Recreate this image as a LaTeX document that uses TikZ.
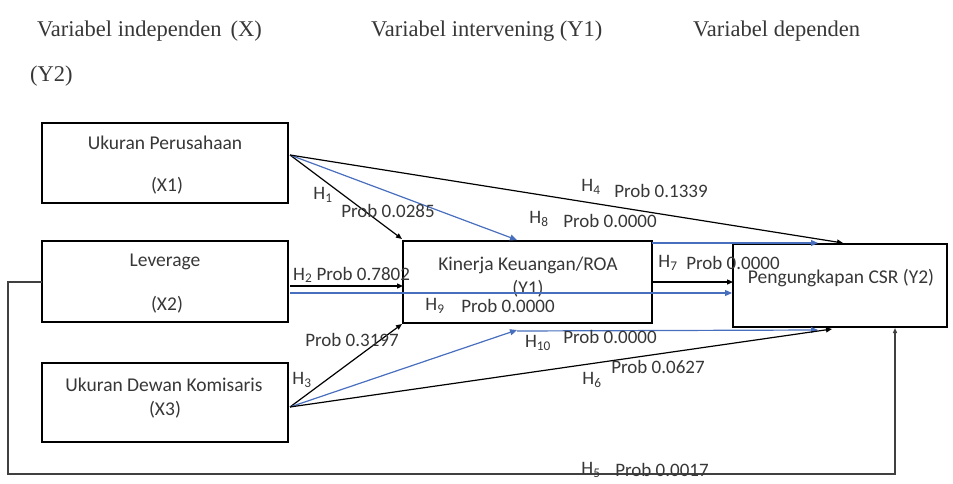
\documentclass[tikz,border=0pt]{standalone}
\usepackage{fontspec}
\setmainfont{Carlito}
\newfontfamily\hdrfont{Liberation Serif}
\usetikzlibrary{arrows.meta}
\definecolor{lineblue}{RGB}{72,110,190}
\definecolor{txtgray}{RGB}{55,55,55}
\tikzset{
  varbox/.style={draw=black, line width=2.8pt, minimum width=#1, inner sep=0pt},
  boxtxt/.style={text=txtgray, font=\fontsize{19.5}{22}\selectfont, inner sep=0pt},
  lbl/.style={text=txtgray, font=\fontsize{19}{22}\selectfont, inner sep=0pt},
  hdr/.style={text=txtgray, font=\hdrfont\fontsize{22.5}{26}\selectfont, inner sep=0pt, anchor=base west},
  blk/.style={draw=black, line width=1.2pt, -{Triangle[length=6pt,width=5pt]}},
  blu/.style={draw=lineblue, line width=1.2pt, -{Triangle[length=7pt,width=6pt]}},
  fb/.style={draw=black!75, line width=1.3pt, -{Triangle[length=5pt,width=4pt]}}
}
\begin{document}
\begin{tikzpicture}[x=1pt,y=-1pt]
\useasboundingbox (0,0) rectangle (953,484);
% headers
\node[hdr] (h1) at (37,37) {Variabel independen\hspace{0.4em}(X)};
\node[hdr] (h2) at (371,37) {Variabel intervening (Y1)};
\node[hdr] (h3) at (693,37) {Variabel dependen};
\node[hdr] (h4) at (30,82) {(Y2)};
% boxes
\node[varbox=246pt, minimum height=80pt] (X1) at (165,163) {};
\node[varbox=246pt, minimum height=81pt] (X2) at (165,281.5) {};
\node[varbox=246pt, minimum height=79pt] (X3) at (165,402.5) {};
\node[varbox=249pt, minimum height=82pt] (Y1) at (527.5,282) {};
\node[varbox=214pt, minimum height=83pt] (Y2) at (840,285.5) {};
% box texts
\node[boxtxt] (t1a) at (165,143) {Ukuran Perusahaan};
\node[boxtxt] (t1b) at (167,186) {(X1)};
\node[boxtxt] (t2a) at (165,262) {Leverage};
\node[boxtxt] (t2b) at (167,305) {(X2)};
\node[boxtxt] (t3a) at (164,385) {Ukuran Dewan Komisaris};
\node[boxtxt] (t3b) at (165,410) {(X3)};
\node[boxtxt] (t4a) at (528,265) {Kinerja Keuangan/ROA};
\node[boxtxt] (t4b) at (528,289) {(Y1)};
\node[boxtxt] (t5a) at (841,278) {Pengungkapan CSR (Y2)};
% connector points
\coordinate (x1o) at (290,155);
\coordinate (x3o) at (290,407);
\coordinate (y1tl) at (402,239);
\coordinate (y1tb) at (517,240);
\coordinate (y1tr) at (652,243);
\coordinate (y2t1) at (818,243);
\coordinate (y2t2) at (843,243);
\coordinate (x2a) at (290,286);
\coordinate (y1l) at (403,286);
\coordinate (x2b) at (290,293);
\coordinate (y2l) at (732,293);
\coordinate (y1r) at (652,282);
\coordinate (y2l2) at (733,282);
\coordinate (y1bl) at (402,324);
\coordinate (y1bb) at (517,330);
\coordinate (y1bs) at (517,331);
\coordinate (y2b1) at (818,330);
\coordinate (y2b2) at (832,329);
\coordinate (fbA) at (42,282);
\coordinate (fbB) at (8,282);
\coordinate (fbC) at (8,474);
\coordinate (fbD) at (895,474);
\coordinate (fbE) at (895,328);
% connectors
\draw[blk] (x1o) -- (y1tl);
\draw[blu] (x1o) -- (y1tb);
\draw[blk] (x1o) -- (y2t2);
\draw[blu] (y1tr) -- (y2t1);
\draw[blk] (x2a) -- (y1l);
\draw[blu] (x2b) -- (y2l);
\draw[blk] (y1r) -- (y2l2);
\draw[blk] (x3o) -- (y1bl);
\draw[blu] (x3o) -- (y1bb);
\draw[blu] (y1bs) -- (y2b1);
\draw[blk] (x3o) -- (y2b2);
\draw[fb] (fbA) -- (fbB) -- (fbC) -- (fbD) -- (fbE);
% labels
\node[lbl] (l1a) at (323,195) {H\textsubscript{1}};
\node[lbl] (l1b) at (388,211) {Prob 0.0285};
\node[lbl] (l4a) at (591,187) {H\textsubscript{4}};
\node[lbl] (l4b) at (661,191) {Prob 0.1339};
\node[lbl] (l8a) at (539,219) {H\textsubscript{8}};
\node[lbl] (l8b) at (610,221) {Prob 0.0000};
\node[lbl, anchor=west] (l2) at (293,275) {H\textsubscript{2} Prob 0.7802};
\node[lbl] (l7a) at (668,263) {H\textsubscript{7}};
\node[lbl] (l7b) at (733,263) {Prob 0.0000};
\node[lbl] (l9a) at (435,306) {H\textsubscript{9}};
\node[lbl] (l9b) at (508,306) {Prob 0.0000};
\node[lbl] (l3b) at (352,340) {Prob 0.3197};
\node[lbl] (l3a) at (302,380) {H\textsubscript{3}};
\node[lbl] (l10a) at (538,343) {H\textsubscript{10}};
\node[lbl] (l10b) at (610,337) {Prob 0.0000};
\node[lbl] (l6b) at (658,367) {Prob 0.0627};
\node[lbl] (l6a) at (592,380) {H\textsubscript{6}};
\node[lbl] (l5a) at (591,470) {H\textsubscript{5}};
\node[lbl] (l5b) at (662,470) {Prob 0.0017};
\end{tikzpicture}
\end{document}
